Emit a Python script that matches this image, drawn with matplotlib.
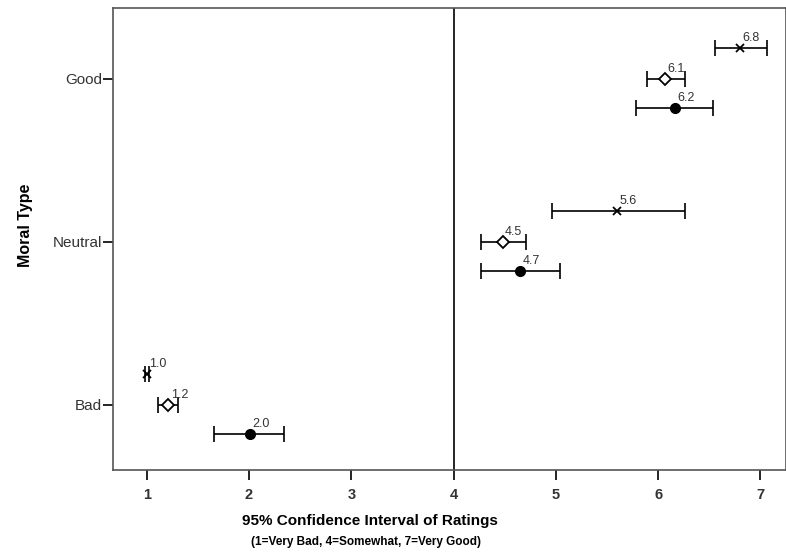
#!/usr/bin/env python3
"""
Intervalos de confianza del 95% de las valoraciones por tipo moral.
"""
import matplotlib

matplotlib.use("Agg")
import matplotlib.pyplot as plt

plt.rcParams["font.family"] = ["Liberation Sans", "DejaVu Sans"]

# Categorias del eje y (de abajo hacia arriba)
categorias = ["Bad", "Neutral", "Good"]

# Tres series: media, limite inferior y superior del IC 95%
media_x = [1.00, 5.60, 6.80]
inf_x = [0.98, 4.96, 6.56]
sup_x = [1.02, 6.26, 7.06]
etiq_x = ["1.0", "5.6", "6.8"]

media_rombo = [1.21, 4.48, 6.07]
inf_rombo = [1.11, 4.27, 5.89]
sup_rombo = [1.31, 4.71, 6.26]
etiq_rombo = ["1.2", "4.5", "6.1"]

media_circulo = [2.01, 4.65, 6.16]
inf_circulo = [1.66, 4.27, 5.78]
sup_circulo = [2.34, 5.04, 6.54]
etiq_circulo = ["2.0", "4.7", "6.2"]

x_ticks = [1, 2, 3, 4, 5, 6, 7]


def dibujar_serie(ax, medias, inf, sup, etiquetas, desplazamiento, estilo):
    ys = [i + 1 + desplazamiento for i in range(len(medias))]
    err = [[m - lo for m, lo in zip(medias, inf)], [hi - m for m, hi in zip(medias, sup)]]
    ax.errorbar(
        medias, ys, xerr=err, fmt="none", ecolor="black",
        elinewidth=1.2, capsize=6, capthick=1.2, zorder=2,
    )
    ax.plot(medias, ys, linestyle="none", color="black", zorder=3, **estilo)
    for m, y, t in zip(medias, ys, etiquetas):
        ax.annotate(
            t, (m, y), xytext=(8, 3), textcoords="offset points",
            ha="center", va="bottom", fontsize=9, color="#333333",
        )


fig = plt.figure(figsize=(7.86, 5.58), dpi=100)
ax = fig.add_axes([0.1438, 0.1577, 0.8562, 0.8280])

dibujar_serie(ax, media_x, inf_x, sup_x, etiq_x, 0.19,
              dict(marker="x", markersize=6, markeredgewidth=1.3))
dibujar_serie(ax, media_rombo, inf_rombo, sup_rombo, etiq_rombo, 0.0,
              dict(marker="D", markersize=6, markerfacecolor="white",
                   markeredgewidth=1.3))
dibujar_serie(ax, media_circulo, inf_circulo, sup_circulo, etiq_circulo, -0.18,
              dict(marker="o", markersize=7))

ax.axvline(4, color="black", linewidth=1.2, zorder=1)

ax.set_xlim(0.67, 7.25)
ax.set_ylim(0.60, 3.435)
ax.set_xticks(x_ticks)
ax.set_xticklabels([str(t) for t in x_ticks], fontweight="bold", fontsize=10.5)
ax.set_yticks([1, 2, 3])
ax.set_yticklabels(categorias, fontsize=11)
ax.tick_params(axis="both", direction="out", length=7, width=1.2,
               color="black", labelcolor="#333333")
ax.tick_params(axis="x", pad=6)
ax.tick_params(axis="y", pad=1)

for lado in ax.spines.values():
    lado.set_color("#555555")
    lado.set_linewidth(1.2)

ax.set_ylabel("Moral Type", fontweight="bold", fontsize=11.5)
ax.yaxis.set_label_coords(-0.119, 0.53)
ax.set_xlabel("95% Confidence Interval of Ratings", fontweight="bold",
              fontsize=11)
ax.xaxis.set_label_coords(0.382, -0.095)
fig.text(0.466, 0.028, "(1=Very Bad, 4=Somewhat, 7=Very Good)",
         ha="center", va="center", fontsize=8.5, fontweight="bold")

fig.savefig("out.png", dpi=100)
plt.close(fig)
